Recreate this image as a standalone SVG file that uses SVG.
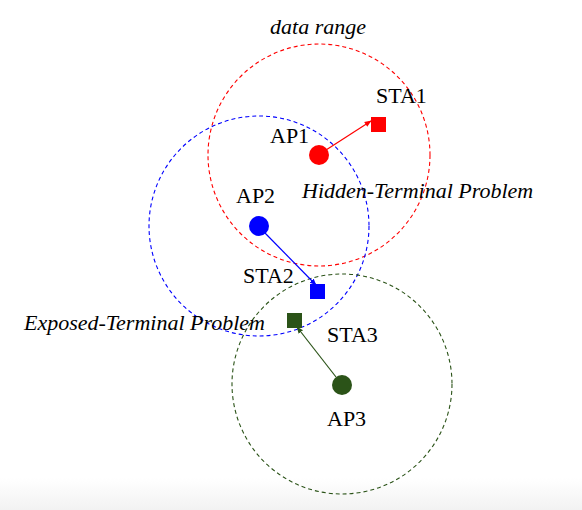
<svg xmlns="http://www.w3.org/2000/svg" width="582" height="510" viewBox="0 0 582 510">
<defs>
<linearGradient id="bg" x1="0" y1="0" x2="0" y2="1">
<stop offset="0" stop-color="#ffffff"/>
<stop offset="1" stop-color="#f2f2f2"/>
</linearGradient>
<marker id="ar-r" viewBox="0 0 10 10" refX="9" refY="5" markerWidth="7" markerHeight="7" orient="auto" markerUnits="userSpaceOnUse"><path d="M0,1 L10,5 L0,9 z" fill="#ff0000"/></marker>
<marker id="ar-b" viewBox="0 0 10 10" refX="9" refY="5" markerWidth="7" markerHeight="7" orient="auto" markerUnits="userSpaceOnUse"><path d="M0,1 L10,5 L0,9 z" fill="#0000ff"/></marker>
<marker id="ar-g" viewBox="0 0 10 10" refX="9" refY="5" markerWidth="7" markerHeight="7" orient="auto" markerUnits="userSpaceOnUse"><path d="M0,1 L10,5 L0,9 z" fill="#2b5318"/></marker>
</defs>
<style>
text{font-family:"Liberation Serif","Times New Roman",serif;font-size:22px;fill:#000}
.it{font-style:italic}
.range{fill:none;stroke-width:1.1;stroke-dasharray:4 3}
.r{stroke:#ff0000}.b{stroke:#0000ff}.g{stroke:#2b5318}
.link{fill:none;stroke-width:1.2}
</style>
<rect x="0" y="0" width="582" height="510" fill="#ffffff"/>
<rect x="0" y="478" width="582" height="32" fill="url(#bg)"/>
<g id="ranges">
<circle class="range r" cx="319" cy="155" r="111"/>
<circle class="range b" cx="259" cy="226" r="110"/>
<circle class="range g" cx="342" cy="384" r="110"/>
</g>
<g id="connectors">
<line class="link r" x1="326" y1="150" x2="371" y2="121" marker-end="url(#ar-r)"/>
<line class="link b" x1="265" y1="233" x2="316" y2="285" marker-end="url(#ar-b)"/>
<line class="link g" x1="336" y1="377" x2="297" y2="327" marker-end="url(#ar-g)"/>
</g>
<g id="AP1"><circle cx="319" cy="155" r="10" fill="#ff0000"/><text x="270" y="143">AP1</text></g>
<g id="STA1"><rect x="371" y="117" width="15" height="15" fill="#ff0000"/><text x="376" y="103">STA1</text></g>
<g id="AP2"><circle cx="259" cy="226" r="10" fill="#0000ff"/><text x="236" y="203">AP2</text></g>
<g id="STA2"><rect x="310" y="284" width="15" height="15" fill="#0000ff"/><text x="243" y="283">STA2</text></g>
<g id="AP3"><circle cx="342" cy="385" r="10" fill="#2b5318"/><text x="327" y="426">AP3</text></g>
<g id="STA3"><rect x="287" y="313" width="15" height="15" fill="#2b5318"/><text x="327" y="342">STA3</text></g>
<g id="labels">
<text class="it" x="318" y="34" text-anchor="middle">data range</text>
<text class="it" x="302" y="198">Hidden-Terminal Problem</text>
<text class="it" x="24" y="330">Exposed-Terminal Problem</text>
</g>
</svg>
